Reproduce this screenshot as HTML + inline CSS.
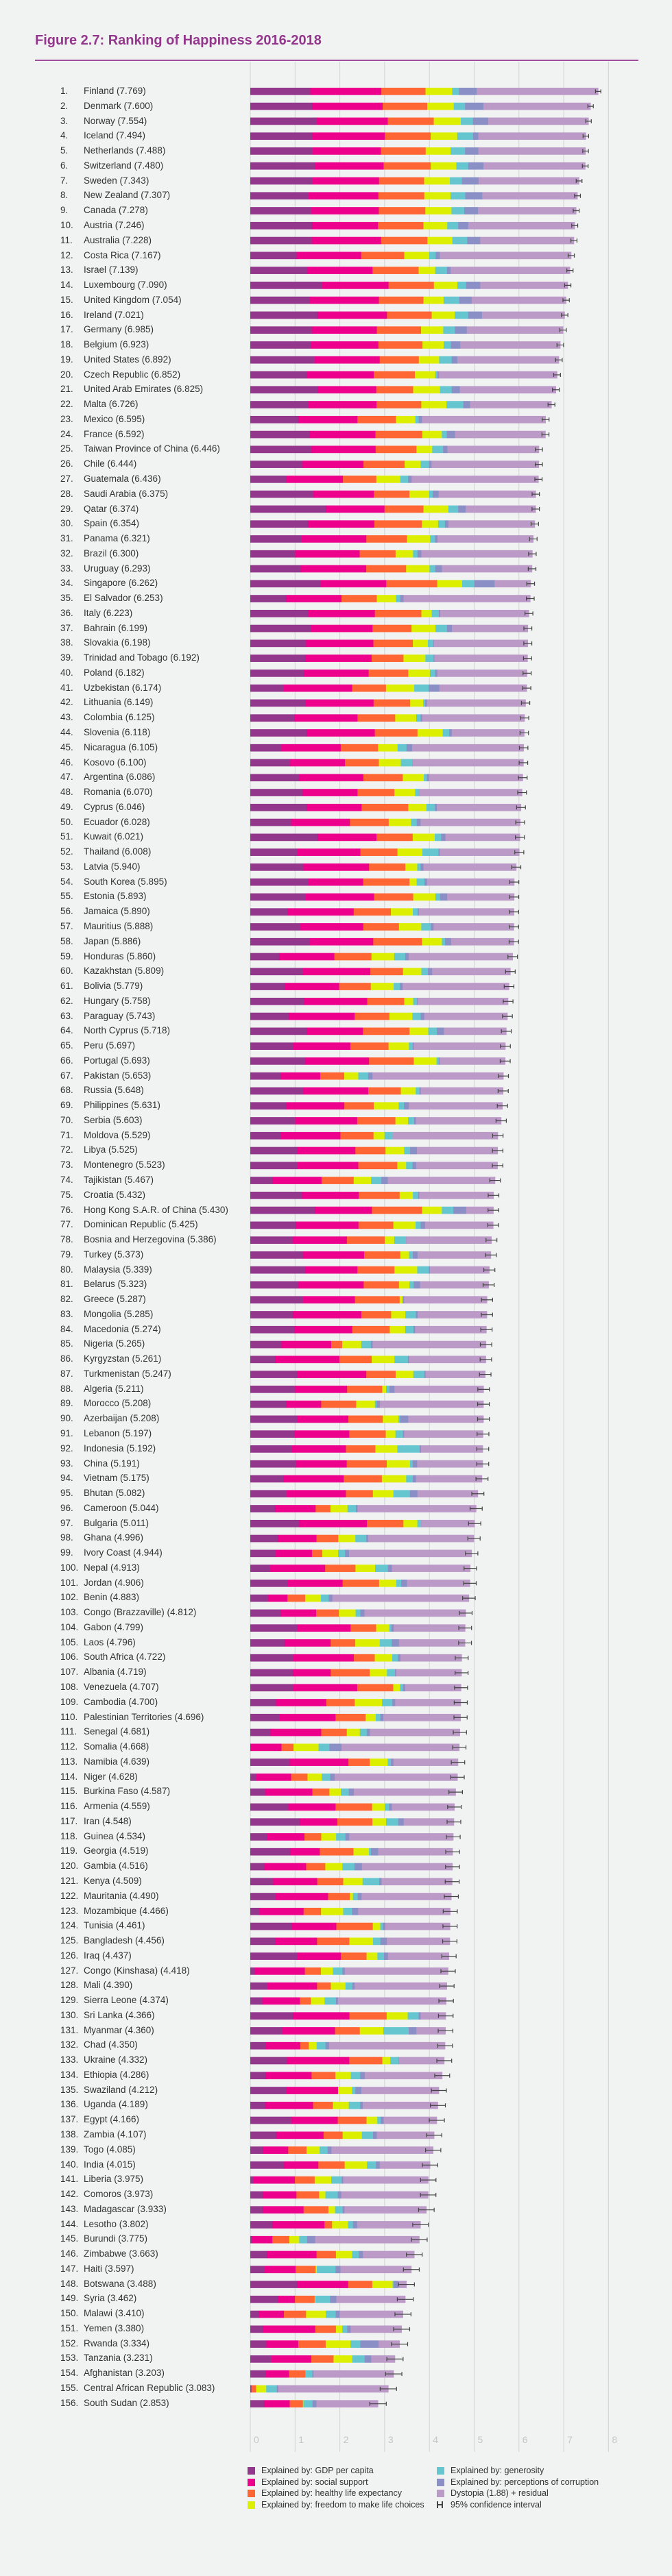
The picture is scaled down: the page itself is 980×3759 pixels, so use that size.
<!DOCTYPE html>
<html><head><meta charset="utf-8"><style>
html,body{margin:0;padding:0;background:#f1f2f2;}
body{width:980px;height:3759px;position:relative;overflow:hidden;font-family:"Liberation Sans",sans-serif;color:#333;}
#title{position:absolute;left:51px;top:48px;font-size:20px;font-weight:bold;color:#93378c;white-space:nowrap;}
#rule{position:absolute;left:51px;top:87px;width:880px;height:2px;background:#a14f9d;}
#labels{position:absolute;left:0;top:122.1px;font-size:13.5px;}
#labels div{height:21.77px;line-height:21.77px;white-space:nowrap;position:relative;}
#labels b{font-weight:normal;position:absolute;left:88px;}
#labels span{position:absolute;left:122px;}
svg{position:absolute;left:0;top:0;}
.leg{position:absolute;font-size:12.5px;white-space:nowrap;}
.leg i{position:absolute;left:-20px;top:2px;width:11px;height:11px;}
</style></head><body>
<div id="title">Figure 2.7: Ranking of Happiness 2016-2018</div>
<div id="rule"></div>
<svg id="chart" width="980" height="3759"></svg>
<div id="labels">
<div><b>1.</b><span>Finland (7.769)</span></div>
<div><b>2.</b><span>Denmark (7.600)</span></div>
<div><b>3.</b><span>Norway (7.554)</span></div>
<div><b>4.</b><span>Iceland (7.494)</span></div>
<div><b>5.</b><span>Netherlands (7.488)</span></div>
<div><b>6.</b><span>Switzerland (7.480)</span></div>
<div><b>7.</b><span>Sweden (7.343)</span></div>
<div><b>8.</b><span>New Zealand (7.307)</span></div>
<div><b>9.</b><span>Canada (7.278)</span></div>
<div><b>10.</b><span>Austria (7.246)</span></div>
<div><b>11.</b><span>Australia (7.228)</span></div>
<div><b>12.</b><span>Costa Rica (7.167)</span></div>
<div><b>13.</b><span>Israel (7.139)</span></div>
<div><b>14.</b><span>Luxembourg (7.090)</span></div>
<div><b>15.</b><span>United Kingdom (7.054)</span></div>
<div><b>16.</b><span>Ireland (7.021)</span></div>
<div><b>17.</b><span>Germany (6.985)</span></div>
<div><b>18.</b><span>Belgium (6.923)</span></div>
<div><b>19.</b><span>United States (6.892)</span></div>
<div><b>20.</b><span>Czech Republic (6.852)</span></div>
<div><b>21.</b><span>United Arab Emirates (6.825)</span></div>
<div><b>22.</b><span>Malta (6.726)</span></div>
<div><b>23.</b><span>Mexico (6.595)</span></div>
<div><b>24.</b><span>France (6.592)</span></div>
<div><b>25.</b><span>Taiwan Province of China (6.446)</span></div>
<div><b>26.</b><span>Chile (6.444)</span></div>
<div><b>27.</b><span>Guatemala (6.436)</span></div>
<div><b>28.</b><span>Saudi Arabia (6.375)</span></div>
<div><b>29.</b><span>Qatar (6.374)</span></div>
<div><b>30.</b><span>Spain (6.354)</span></div>
<div><b>31.</b><span>Panama (6.321)</span></div>
<div><b>32.</b><span>Brazil (6.300)</span></div>
<div><b>33.</b><span>Uruguay (6.293)</span></div>
<div><b>34.</b><span>Singapore (6.262)</span></div>
<div><b>35.</b><span>El Salvador (6.253)</span></div>
<div><b>36.</b><span>Italy (6.223)</span></div>
<div><b>37.</b><span>Bahrain (6.199)</span></div>
<div><b>38.</b><span>Slovakia (6.198)</span></div>
<div><b>39.</b><span>Trinidad and Tobago (6.192)</span></div>
<div><b>40.</b><span>Poland (6.182)</span></div>
<div><b>41.</b><span>Uzbekistan (6.174)</span></div>
<div><b>42.</b><span>Lithuania (6.149)</span></div>
<div><b>43.</b><span>Colombia (6.125)</span></div>
<div><b>44.</b><span>Slovenia (6.118)</span></div>
<div><b>45.</b><span>Nicaragua (6.105)</span></div>
<div><b>46.</b><span>Kosovo (6.100)</span></div>
<div><b>47.</b><span>Argentina (6.086)</span></div>
<div><b>48.</b><span>Romania (6.070)</span></div>
<div><b>49.</b><span>Cyprus (6.046)</span></div>
<div><b>50.</b><span>Ecuador (6.028)</span></div>
<div><b>51.</b><span>Kuwait (6.021)</span></div>
<div><b>52.</b><span>Thailand (6.008)</span></div>
<div><b>53.</b><span>Latvia (5.940)</span></div>
<div><b>54.</b><span>South Korea (5.895)</span></div>
<div><b>55.</b><span>Estonia (5.893)</span></div>
<div><b>56.</b><span>Jamaica (5.890)</span></div>
<div><b>57.</b><span>Mauritius (5.888)</span></div>
<div><b>58.</b><span>Japan (5.886)</span></div>
<div><b>59.</b><span>Honduras (5.860)</span></div>
<div><b>60.</b><span>Kazakhstan (5.809)</span></div>
<div><b>61.</b><span>Bolivia (5.779)</span></div>
<div><b>62.</b><span>Hungary (5.758)</span></div>
<div><b>63.</b><span>Paraguay (5.743)</span></div>
<div><b>64.</b><span>North Cyprus (5.718)</span></div>
<div><b>65.</b><span>Peru (5.697)</span></div>
<div><b>66.</b><span>Portugal (5.693)</span></div>
<div><b>67.</b><span>Pakistan (5.653)</span></div>
<div><b>68.</b><span>Russia (5.648)</span></div>
<div><b>69.</b><span>Philippines (5.631)</span></div>
<div><b>70.</b><span>Serbia (5.603)</span></div>
<div><b>71.</b><span>Moldova (5.529)</span></div>
<div><b>72.</b><span>Libya (5.525)</span></div>
<div><b>73.</b><span>Montenegro (5.523)</span></div>
<div><b>74.</b><span>Tajikistan (5.467)</span></div>
<div><b>75.</b><span>Croatia (5.432)</span></div>
<div><b>76.</b><span>Hong Kong S.A.R. of China (5.430)</span></div>
<div><b>77.</b><span>Dominican Republic (5.425)</span></div>
<div><b>78.</b><span>Bosnia and Herzegovina (5.386)</span></div>
<div><b>79.</b><span>Turkey (5.373)</span></div>
<div><b>80.</b><span>Malaysia (5.339)</span></div>
<div><b>81.</b><span>Belarus (5.323)</span></div>
<div><b>82.</b><span>Greece (5.287)</span></div>
<div><b>83.</b><span>Mongolia (5.285)</span></div>
<div><b>84.</b><span>Macedonia (5.274)</span></div>
<div><b>85.</b><span>Nigeria (5.265)</span></div>
<div><b>86.</b><span>Kyrgyzstan (5.261)</span></div>
<div><b>87.</b><span>Turkmenistan (5.247)</span></div>
<div><b>88.</b><span>Algeria (5.211)</span></div>
<div><b>89.</b><span>Morocco (5.208)</span></div>
<div><b>90.</b><span>Azerbaijan (5.208)</span></div>
<div><b>91.</b><span>Lebanon (5.197)</span></div>
<div><b>92.</b><span>Indonesia (5.192)</span></div>
<div><b>93.</b><span>China (5.191)</span></div>
<div><b>94.</b><span>Vietnam (5.175)</span></div>
<div><b>95.</b><span>Bhutan (5.082)</span></div>
<div><b>96.</b><span>Cameroon (5.044)</span></div>
<div><b>97.</b><span>Bulgaria (5.011)</span></div>
<div><b>98.</b><span>Ghana (4.996)</span></div>
<div><b>99.</b><span>Ivory Coast (4.944)</span></div>
<div><b>100.</b><span>Nepal (4.913)</span></div>
<div><b>101.</b><span>Jordan (4.906)</span></div>
<div><b>102.</b><span>Benin (4.883)</span></div>
<div><b>103.</b><span>Congo (Brazzaville) (4.812)</span></div>
<div><b>104.</b><span>Gabon (4.799)</span></div>
<div><b>105.</b><span>Laos (4.796)</span></div>
<div><b>106.</b><span>South Africa (4.722)</span></div>
<div><b>107.</b><span>Albania (4.719)</span></div>
<div><b>108.</b><span>Venezuela (4.707)</span></div>
<div><b>109.</b><span>Cambodia (4.700)</span></div>
<div><b>110.</b><span>Palestinian Territories (4.696)</span></div>
<div><b>111.</b><span>Senegal (4.681)</span></div>
<div><b>112.</b><span>Somalia (4.668)</span></div>
<div><b>113.</b><span>Namibia (4.639)</span></div>
<div><b>114.</b><span>Niger (4.628)</span></div>
<div><b>115.</b><span>Burkina Faso (4.587)</span></div>
<div><b>116.</b><span>Armenia (4.559)</span></div>
<div><b>117.</b><span>Iran (4.548)</span></div>
<div><b>118.</b><span>Guinea (4.534)</span></div>
<div><b>119.</b><span>Georgia (4.519)</span></div>
<div><b>120.</b><span>Gambia (4.516)</span></div>
<div><b>121.</b><span>Kenya (4.509)</span></div>
<div><b>122.</b><span>Mauritania (4.490)</span></div>
<div><b>123.</b><span>Mozambique (4.466)</span></div>
<div><b>124.</b><span>Tunisia (4.461)</span></div>
<div><b>125.</b><span>Bangladesh (4.456)</span></div>
<div><b>126.</b><span>Iraq (4.437)</span></div>
<div><b>127.</b><span>Congo (Kinshasa) (4.418)</span></div>
<div><b>128.</b><span>Mali (4.390)</span></div>
<div><b>129.</b><span>Sierra Leone (4.374)</span></div>
<div><b>130.</b><span>Sri Lanka (4.366)</span></div>
<div><b>131.</b><span>Myanmar (4.360)</span></div>
<div><b>132.</b><span>Chad (4.350)</span></div>
<div><b>133.</b><span>Ukraine (4.332)</span></div>
<div><b>134.</b><span>Ethiopia (4.286)</span></div>
<div><b>135.</b><span>Swaziland (4.212)</span></div>
<div><b>136.</b><span>Uganda (4.189)</span></div>
<div><b>137.</b><span>Egypt (4.166)</span></div>
<div><b>138.</b><span>Zambia (4.107)</span></div>
<div><b>139.</b><span>Togo (4.085)</span></div>
<div><b>140.</b><span>India (4.015)</span></div>
<div><b>141.</b><span>Liberia (3.975)</span></div>
<div><b>142.</b><span>Comoros (3.973)</span></div>
<div><b>143.</b><span>Madagascar (3.933)</span></div>
<div><b>144.</b><span>Lesotho (3.802)</span></div>
<div><b>145.</b><span>Burundi (3.775)</span></div>
<div><b>146.</b><span>Zimbabwe (3.663)</span></div>
<div><b>147.</b><span>Haiti (3.597)</span></div>
<div><b>148.</b><span>Botswana (3.488)</span></div>
<div><b>149.</b><span>Syria (3.462)</span></div>
<div><b>150.</b><span>Malawi (3.410)</span></div>
<div><b>151.</b><span>Yemen (3.380)</span></div>
<div><b>152.</b><span>Rwanda (3.334)</span></div>
<div><b>153.</b><span>Tanzania (3.231)</span></div>
<div><b>154.</b><span>Afghanistan (3.203)</span></div>
<div><b>155.</b><span>Central African Republic (3.083)</span></div>
<div><b>156.</b><span>South Sudan (2.853)</span></div>
</div>
<div class="leg" style="left:381px;top:3598px"><i style="background:#93378c"></i>Explained by: GDP per capita</div>
<div class="leg" style="left:381px;top:3614.5px"><i style="background:#ec008c"></i>Explained by: social support</div>
<div class="leg" style="left:381px;top:3631px"><i style="background:#ff6633"></i>Explained by: healthy life expectancy</div>
<div class="leg" style="left:381px;top:3647.5px"><i style="background:#dcef00"></i>Explained by: freedom to make life choices</div>
<div class="leg" style="left:657px;top:3598px"><i style="background:#66c6d0"></i>Explained by: generosity</div>
<div class="leg" style="left:657px;top:3614.5px"><i style="background:#8a8fc6"></i>Explained by: perceptions of corruption</div>
<div class="leg" style="left:657px;top:3631px"><i style="background:#bb9ac8"></i>Dystopia (1.88) + residual</div>
<div class="leg" style="left:657px;top:3647.5px"><i style="background:none;border-left:2px solid #444;border-right:2px solid #444;width:9px;height:10px;top:2px;box-sizing:border-box"><span style="position:absolute;left:0;right:0;top:4px;height:2px;background:#444"></span></i>95% confidence interval</div>
<script>
var D=[
[7.769,1.340,1.587,0.986,0.596,0.153,0.393],[7.600,1.383,1.573,0.996,0.592,0.252,0.410],[7.554,1.488,1.582,1.028,0.603,0.271,0.341],[7.494,1.380,1.624,1.026,0.591,0.354,0.118],[7.488,1.396,1.522,0.999,0.557,0.322,0.298],[7.480,1.452,1.526,1.052,0.572,0.263,0.343],[7.343,1.387,1.487,1.009,0.574,0.267,0.373],[7.307,1.303,1.557,1.026,0.585,0.330,0.380],[7.278,1.365,1.505,1.039,0.584,0.285,0.308],[7.246,1.376,1.475,1.016,0.532,0.244,0.226],
[7.228,1.372,1.548,1.036,0.557,0.332,0.290],[7.167,1.034,1.441,0.963,0.558,0.144,0.093],[7.139,1.276,1.455,1.029,0.371,0.261,0.082],[7.090,1.609,1.479,1.012,0.526,0.194,0.316],[7.054,1.333,1.538,0.996,0.450,0.348,0.278],[7.021,1.499,1.553,0.999,0.516,0.298,0.310],[6.985,1.373,1.454,0.987,0.495,0.261,0.265],[6.923,1.356,1.504,0.986,0.473,0.160,0.210],[6.892,1.433,1.457,0.874,0.454,0.280,0.128],[6.852,1.269,1.487,0.920,0.457,0.046,0.036],
[6.825,1.503,1.310,0.825,0.598,0.262,0.182],[6.726,1.300,1.520,0.999,0.564,0.375,0.151],[6.595,1.070,1.323,0.861,0.433,0.074,0.073],[6.592,1.324,1.472,1.045,0.436,0.111,0.183],[6.446,1.368,1.430,0.914,0.351,0.242,0.097],[6.444,1.159,1.369,0.920,0.357,0.187,0.056],[6.436,0.800,1.269,0.746,0.535,0.175,0.078],[6.375,1.403,1.357,0.795,0.439,0.080,0.132],[6.374,1.684,1.313,0.871,0.555,0.220,0.167],[6.354,1.286,1.484,1.062,0.362,0.153,0.079],
[6.321,1.149,1.442,0.910,0.516,0.109,0.054],[6.300,1.004,1.439,0.802,0.390,0.099,0.086],[6.293,1.124,1.465,0.891,0.523,0.127,0.150],[6.262,1.572,1.463,1.141,0.556,0.271,0.453],[6.253,0.794,1.242,0.789,0.430,0.093,0.074],[6.223,1.294,1.488,1.039,0.231,0.158,0.030],[6.199,1.362,1.368,0.871,0.536,0.255,0.110],[6.198,1.246,1.504,0.881,0.334,0.121,0.014],[6.192,1.231,1.477,0.713,0.489,0.185,0.016],[6.182,1.206,1.438,0.884,0.483,0.117,0.050],
[6.174,0.745,1.529,0.756,0.631,0.322,0.240],[6.149,1.238,1.515,0.818,0.291,0.043,0.042],[6.125,0.985,1.410,0.841,0.470,0.099,0.034],[6.118,1.258,1.523,0.953,0.564,0.144,0.057],[6.105,0.694,1.325,0.835,0.435,0.200,0.127],[6.100,0.882,1.232,0.758,0.489,0.262,0.006],[6.086,1.092,1.432,0.881,0.471,0.066,0.050],[6.070,1.162,1.232,0.825,0.462,0.083,0.005],[6.046,1.263,1.223,1.042,0.406,0.190,0.041],[6.028,0.912,1.312,0.868,0.498,0.126,0.087],
[6.021,1.500,1.319,0.808,0.493,0.142,0.097],[6.008,1.050,1.409,0.828,0.557,0.359,0.028],[5.940,1.187,1.465,0.812,0.264,0.075,0.064],[5.895,1.301,1.219,1.036,0.159,0.175,0.056],[5.893,1.237,1.528,0.874,0.495,0.103,0.161],[5.890,0.831,1.478,0.831,0.490,0.107,0.028],[5.888,1.120,1.402,0.798,0.498,0.215,0.060],[5.886,1.327,1.419,1.088,0.445,0.069,0.140],[5.860,0.642,1.236,0.828,0.507,0.246,0.078],[5.809,1.173,1.508,0.729,0.410,0.146,0.096],
[5.779,0.776,1.209,0.706,0.511,0.137,0.064],[5.758,1.201,1.410,0.828,0.199,0.081,0.020],[5.743,0.855,1.475,0.777,0.514,0.184,0.080],[5.718,1.263,1.252,1.042,0.417,0.191,0.162],[5.697,0.960,1.274,0.854,0.455,0.083,0.027],[5.693,1.221,1.431,0.999,0.508,0.047,0.025],[5.653,0.677,0.886,0.535,0.313,0.220,0.098],[5.648,1.183,1.452,0.726,0.334,0.082,0.031],[5.631,0.807,1.293,0.657,0.558,0.117,0.107],[5.603,1.004,1.383,0.854,0.282,0.137,0.039],
[5.529,0.685,1.328,0.739,0.245,0.181,0.000],[5.525,1.044,1.303,0.673,0.416,0.133,0.152],[5.523,1.051,1.361,0.871,0.197,0.142,0.080],[5.467,0.493,1.098,0.718,0.389,0.230,0.144],[5.432,1.155,1.266,0.914,0.296,0.119,0.022],[5.430,1.438,1.277,1.122,0.440,0.258,0.287],[5.425,1.015,1.401,0.779,0.497,0.113,0.101],[5.386,0.945,1.212,0.845,0.212,0.263,0.006],[5.373,1.183,1.360,0.808,0.195,0.083,0.106],[5.339,1.221,1.171,0.828,0.508,0.260,0.024],
[5.323,1.067,1.465,0.789,0.235,0.094,0.142],[5.287,1.181,1.156,0.999,0.067,0.000,0.034],[5.285,0.948,1.531,0.667,0.317,0.235,0.038],[5.274,0.983,1.294,0.838,0.345,0.185,0.034],[5.265,0.696,1.111,0.245,0.426,0.215,0.041],[5.261,0.551,1.438,0.723,0.508,0.300,0.023],[5.247,1.052,1.538,0.657,0.394,0.244,0.028],[5.211,1.002,1.160,0.785,0.086,0.073,0.114],[5.208,0.801,0.782,0.782,0.418,0.036,0.076],[5.208,1.043,1.147,0.769,0.351,0.035,0.182],
[5.197,0.987,1.224,0.815,0.216,0.166,0.027],[5.192,0.931,1.203,0.660,0.491,0.498,0.028],[5.191,1.029,1.125,0.893,0.521,0.058,0.100],[5.175,0.741,1.346,0.851,0.543,0.147,0.073],[5.082,0.813,1.321,0.604,0.457,0.370,0.167],[5.044,0.549,0.910,0.331,0.381,0.187,0.037],[5.011,1.092,1.513,0.815,0.311,0.081,0.004],[4.996,0.611,0.868,0.486,0.381,0.245,0.040],[4.944,0.569,0.808,0.232,0.352,0.154,0.090],[4.913,0.446,1.226,0.677,0.439,0.285,0.089],
[4.906,0.837,1.225,0.815,0.383,0.110,0.130],[4.883,0.393,0.437,0.397,0.349,0.175,0.082],[4.812,0.673,0.799,0.508,0.372,0.105,0.093],[4.799,1.057,1.183,0.571,0.295,0.043,0.055],[4.796,0.764,1.030,0.551,0.547,0.266,0.164],[4.722,0.960,1.351,0.469,0.389,0.130,0.055],[4.719,0.947,0.848,0.874,0.383,0.178,0.027],[4.707,0.960,1.427,0.805,0.154,0.064,0.047],[4.700,0.574,1.122,0.637,0.609,0.232,0.062],[4.696,0.657,1.247,0.672,0.225,0.103,0.066],
[4.681,0.450,1.134,0.571,0.292,0.153,0.072],[4.668,0.000,0.698,0.268,0.559,0.243,0.270],[4.639,0.879,1.313,0.477,0.401,0.070,0.056],[4.628,0.138,0.774,0.366,0.318,0.188,0.102],[4.587,0.331,1.056,0.380,0.255,0.177,0.113],[4.559,0.850,1.055,0.815,0.283,0.095,0.064],[4.548,1.100,0.842,0.785,0.305,0.270,0.125],[4.534,0.380,0.829,0.375,0.332,0.207,0.086],[4.519,0.886,0.666,0.752,0.346,0.043,0.164],[4.516,0.308,0.939,0.428,0.382,0.269,0.167],
[4.509,0.512,0.983,0.581,0.431,0.372,0.053],[4.490,0.570,1.167,0.489,0.066,0.106,0.088],[4.466,0.204,0.986,0.390,0.494,0.197,0.138],[4.461,0.921,1.000,0.815,0.167,0.059,0.055],[4.456,0.562,0.928,0.723,0.527,0.166,0.143],[4.437,1.043,0.980,0.574,0.241,0.148,0.089],[4.418,0.094,1.125,0.357,0.269,0.212,0.053],[4.390,0.385,1.105,0.308,0.327,0.153,0.052],[4.374,0.268,0.841,0.242,0.309,0.252,0.045],[4.366,0.949,1.265,0.831,0.470,0.244,0.047],
[4.360,0.710,1.181,0.555,0.525,0.566,0.172],[4.350,0.350,0.766,0.192,0.174,0.198,0.078],[4.332,0.820,1.390,0.739,0.178,0.187,0.010],[4.286,0.336,1.033,0.532,0.344,0.209,0.100],[4.212,0.811,1.149,0.000,0.313,0.074,0.135],[4.189,0.332,1.069,0.443,0.356,0.252,0.060],[4.166,0.913,1.039,0.644,0.241,0.076,0.067],[4.107,0.578,1.058,0.426,0.431,0.247,0.087],[4.085,0.275,0.572,0.410,0.293,0.177,0.085],[4.015,0.755,0.765,0.588,0.498,0.200,0.085],
[3.975,0.073,0.922,0.443,0.370,0.233,0.033],[3.973,0.274,0.757,0.505,0.142,0.275,0.078],[3.933,0.274,0.916,0.555,0.148,0.169,0.041],[3.802,0.489,1.169,0.168,0.359,0.107,0.093],[3.775,0.046,0.447,0.380,0.220,0.176,0.180],[3.663,0.366,1.114,0.433,0.361,0.151,0.089],[3.597,0.323,0.688,0.449,0.026,0.419,0.110],[3.488,1.041,1.145,0.538,0.455,0.025,0.100],[3.462,0.619,0.378,0.440,0.013,0.331,0.141],[3.410,0.191,0.560,0.495,0.443,0.218,0.089],
[3.380,0.287,1.163,0.463,0.143,0.108,0.077],[3.334,0.359,0.711,0.614,0.555,0.217,0.411],[3.231,0.476,0.885,0.499,0.417,0.276,0.147],[3.203,0.350,0.517,0.361,0.000,0.158,0.025],[3.083,0.026,0.000,0.105,0.225,0.235,0.035],[2.853,0.306,0.575,0.295,0.010,0.202,0.091]];
var C=["#93378c","#ec008c","#ff6633","#dcef00","#66c6d0","#8a8fc6","#bb9ac8"];
var X0=365,U=65.3,s="";
for(var k=0;k<=8;k++){var x=X0+k*U;s+='<line x1="'+x+'" y1="90" x2="'+x+'" y2="3578" stroke="#d2d3d4" stroke-width="1"/>';
s+='<text x="'+(x+5)+'" y="3565" font-size="14" fill="#c4c6c8" font-family="Liberation Sans,sans-serif">'+k+'</text>';}
for(var i=0;i<D.length;i++){var d=D[i],y=128+i*21.77,cx=X0,sum=0;
 for(var j=1;j<=7;j++){var v=j<7?d[j]:d[0]-sum;if(j<7)sum+=d[j];var w=v*U;if(w>0){s+='<rect x="'+cx.toFixed(2)+'" y="'+y.toFixed(2)+'" width="'+(w+0.3).toFixed(2)+'" height="10.7" fill="'+C[j-1]+'"/>';}cx+=w;}
 var e=(0.06+i*0.0008)*U,ex=X0+d[0]*U,ym=y+5.35;
 s+='<path d="M'+(ex-e)+' '+ym+'H'+(ex+e)+'M'+(ex-e)+' '+(ym-3)+'V'+(ym+3)+'M'+(ex+e)+' '+(ym-3)+'V'+(ym+3)+'" stroke="#444" stroke-width="1.2" fill="none"/>';}
document.getElementById("chart").innerHTML=s;
</script>
</body></html>
